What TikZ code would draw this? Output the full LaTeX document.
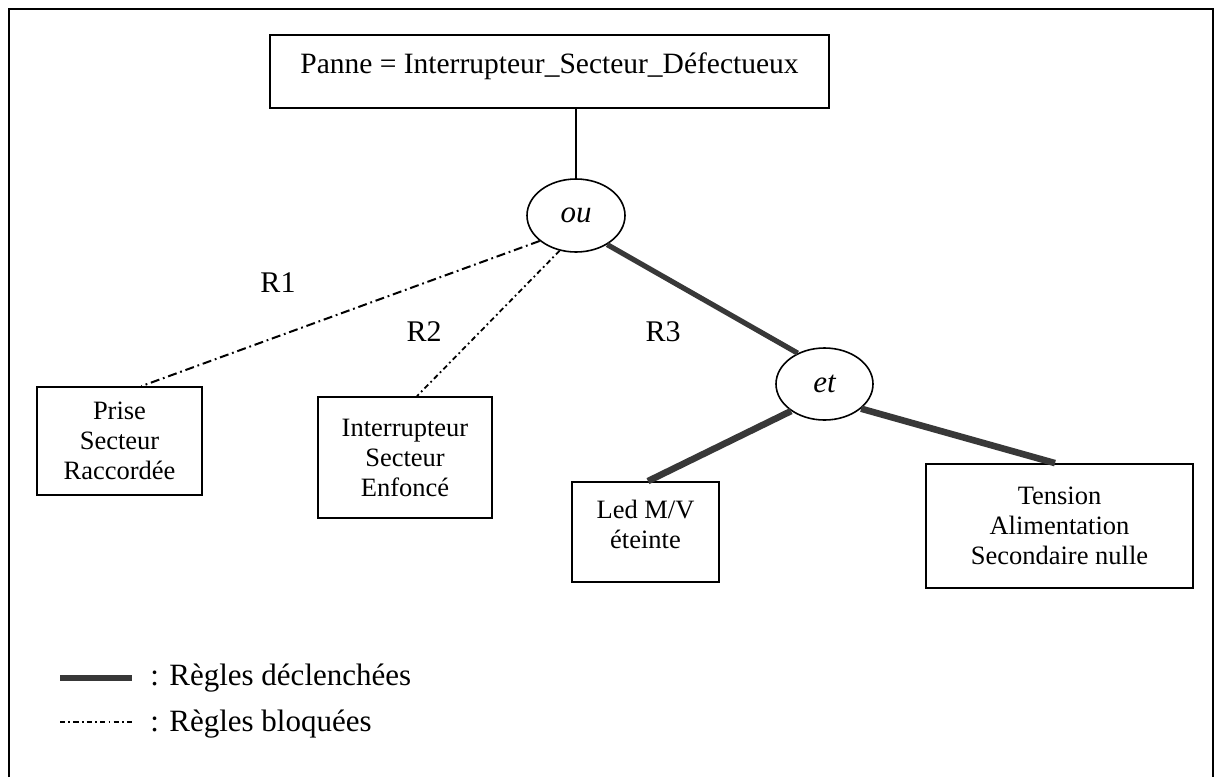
\documentclass[tikz,border=0pt]{standalone}
\usepackage{fontspec}
\setmainfont{Liberation Serif}
\usetikzlibrary{calc,shapes.geometric}
\begin{document}
\begin{tikzpicture}[x=0.5pt,y=-0.5pt,
  box/.style={draw, line width=0.9pt, rectangle, inner sep=0pt, align=center,
    font=\fontsize{13.25}{15}\selectfont},
  gate/.style={draw, line width=0.8pt, ellipse, inner sep=0pt,
    font=\fontsize{15.5}{18}\selectfont\itshape},
  lbl/.style={inner sep=0pt, font=\fontsize{15}{18}\selectfont},
  legendtext/.style={inner sep=0pt, anchor=west, font=\fontsize{15.5}{18}\selectfont},
  link/.style={line width=0.7pt},
  fired/.style={line width=3.3pt, draw=black!78},
  blocked/.style={line width=1pt, dash pattern=on 4.5pt off 1.9pt on 0.9pt off 1.9pt},
  blockedfine/.style={line width=0.9pt, dash pattern=on 2.6pt off 1.6pt on 0.9pt off 1.6pt}]

% page and outer frame
\useasboundingbox[fill=white] (0,0) rectangle (1215,777);
\draw[line width=1pt] (9,777) -- (9,9) -- (1213,9) -- (1213,777);

% fault and logic gates
\node[box, minimum width=279.5pt, minimum height=36.5pt, text depth=8.6pt,
  font=\fontsize{14.75}{17}\selectfont] (top) at (549.5,71.5)
  {Panne = Interrupteur\_Secteur\_Défectueux};
\node[gate, minimum width=49pt, minimum height=36.5pt] (ou) at (576,215.5) {ou};
\node[gate, minimum width=48.5pt, minimum height=36pt] (et) at (824.5,384) {et};

% observations
\node[box, minimum width=82.5pt, minimum height=54pt] (prise) at (119.5,441)
  {Prise\\Secteur\\Raccordée};
\node[box, minimum width=87pt, minimum height=60.5pt] (inter) at (405,457.5)
  {Interrupteur\\Secteur\\Enfoncé};
\node[box, minimum width=73.5pt, minimum height=50pt, text depth=8pt] (led) at (645.5,532)
  {Led M/V\\éteinte};
\node[box, minimum width=133.5pt, minimum height=62pt] (tension) at (1059.5,526)
  {Tension\\Alimentation\\Secondaire nulle};

% rules
\draw[link] (top.south -| ou.north) -- (ou.north);
\draw[blocked] (ou.215) -- ($(prise.north)+(22,0)$);
\draw[blockedfine] (ou.245) -- ($(inter.north)+(12,0)$);
\draw[fired, line width=2.6pt] (ou.317) -- (et.131);
\draw[fired] (et.219) -- ($(led.north)+(2.5,0)$);
\draw[fired] (et.326) -- ($(tension.north)+(-4.5,0)$);

\node[lbl] (r1) at (278,283) {R1};
\node[lbl] (r2) at (424,332) {R2};
\node[lbl] (r3) at (663,332) {R3};

% legend
\coordinate (fa) at (60,678);
\coordinate (fb) at (132,678);
\draw[fired, line width=2.6pt] (fa) -- (fb);
\node[legendtext] (lf) at (150,678) {: Règles déclenchées};
\coordinate (ba) at (60,722);
\coordinate (bb) at (132,722);
\draw[blockedfine] (ba) -- (bb);
\node[legendtext] (lb) at (150,724) {: Règles bloquées};
\end{tikzpicture}
\end{document}
